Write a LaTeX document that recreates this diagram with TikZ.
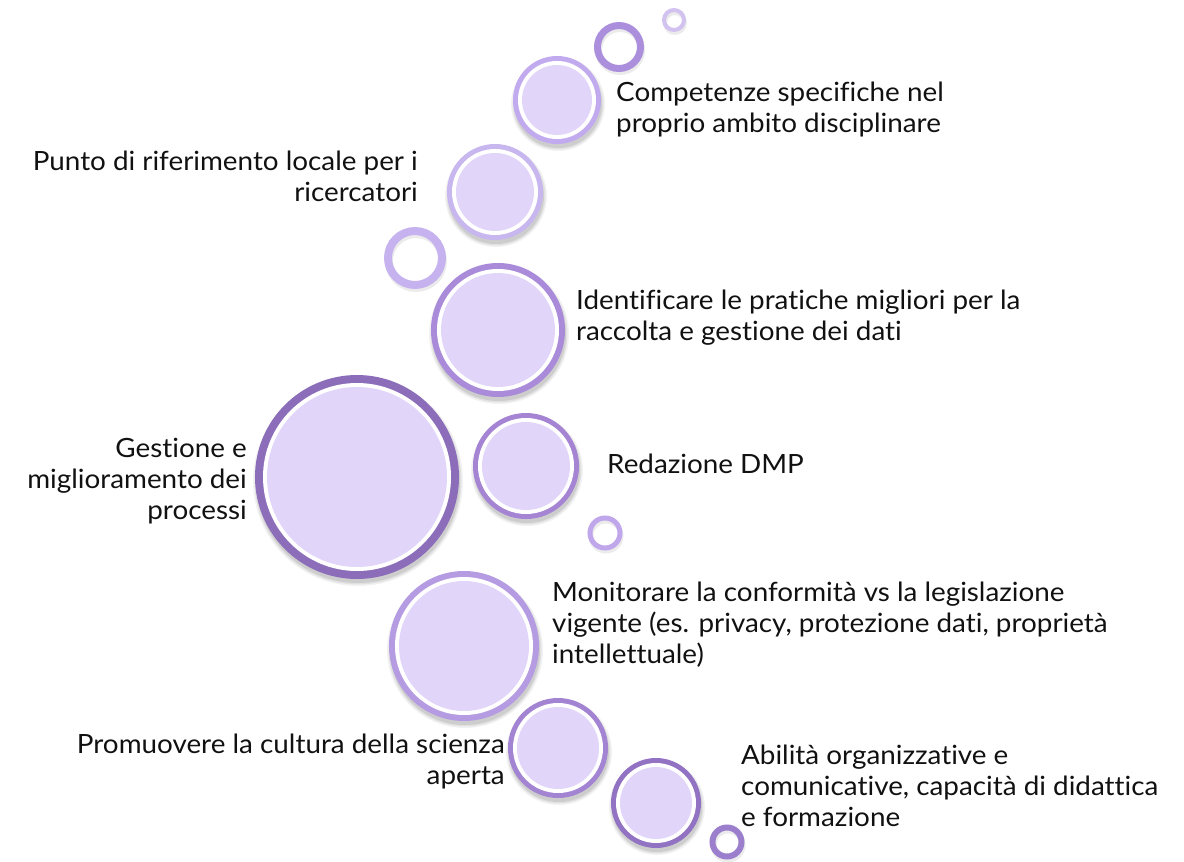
\documentclass[tikz,border=0pt]{standalone}
\usepackage{fontspec}
\setmainfont{Lato}[Ligatures={NoCommon},FakeStretch=1.05]
\definecolor{bubblefill}{HTML}{E1D5FA}
\definecolor{textc}{HTML}{111111}
\definecolor{bA}{HTML}{C2AAEE}
\definecolor{bB}{HTML}{C8B6EE}
\definecolor{bC}{HTML}{A98BD9}
\definecolor{bD}{HTML}{8C6DB9}
\definecolor{bE}{HTML}{A484D3}
\definecolor{bF}{HTML}{B59BE2}
\definecolor{bG}{HTML}{A384D2}
\definecolor{bH}{HTML}{9272C2}
\definecolor{rA}{HTML}{D2C2F0}
\definecolor{rB}{HTML}{AB8FDC}
\definecolor{rC}{HTML}{C6B2EE}
\definecolor{rD}{HTML}{C0A6EA}
\definecolor{rE}{HTML}{9C7FCC}
\newcommand\mybubble[6]{%
  \foreach \s/\o in {3/0.05,1.5/0.07,0/0.09}{\fill[black,opacity=\o] (#2+1,#3+4) circle ({(#4+\s)*1pt});}
  \fill[#5] (#2,#3) circle ({#4*1pt});
  \fill[white] (#2,#3) circle ({(#4-#6)*1pt});
  \fill[bubblefill] (#2,#3) circle ({(#4-#6-4)*1pt});
  \node[circle,inner sep=0pt,minimum size={2*#4*1pt}] (#1) at (#2,#3) {};
}
\newcommand\myring[6]{%
  \draw[black,opacity=0.08,line width={#6*1pt}] (#2+1,#3+3) circle ({(#4-#6/2)*1pt});
  \draw[#5,line width={#6*1pt}] (#2,#3) circle ({(#4-#6/2)*1pt});
  \node[circle,inner sep=0pt,minimum size={2*#4*1pt}] (#1) at (#2,#3) {};
}
\tikzset{lbl/.style={inner sep=0pt,text=textc,font=\fontsize{26.5}{31}\selectfont}}
\begin{document}
\begin{tikzpicture}[x=1pt,y=-1pt]
\useasboundingbox (0,0) rectangle (1184,862);
% rings
\myring{r1}{674}{20}{12}{rA}{4}
\myring{r2}{619}{47}{25}{rB}{7}
\myring{r3}{415}{258}{31}{rC}{8}
\myring{r4}{605}{533}{17.5}{rD}{5}
\myring{r5}{727}{842}{17.5}{rE}{6}
% bubbles
\mybubble{b1}{557}{100}{44}{bA}{5}
\mybubble{b2}{495}{192}{48}{bB}{5}
\mybubble{b3}{498}{330}{67}{bC}{6}
\mybubble{b4}{357}{477}{102}{bD}{8}
\mybubble{b5}{526}{466}{53}{bE}{5}
\mybubble{b6}{464}{646}{75}{bF}{6}
\mybubble{b7}{558}{748}{50}{bG}{5}
\mybubble{b8}{656}{803}{45}{bH}{5}
% labels
\node[lbl,anchor=north west,align=left] (t1) at (616,82) {Competenze specifiche nel\\proprio ambito disciplinare};
\node[lbl,anchor=north east,align=right] (t2) at (418,151) {Punto di riferimento locale per i\\ricercatori};
\node[lbl,anchor=north west,align=left] (t3) at (576,290) {Identificare le pratiche migliori per la\\raccolta e gestione dei dati};
\node[lbl,anchor=north east,align=right] (t4) at (247,438) {Gestione e\\miglioramento dei\\processi};
\node[lbl,anchor=north west,align=left] (t5) at (607,454) {Redazione DMP};
\node[lbl,anchor=north west,align=left] (t6) at (552,582) {Monitorare la conformità vs la legislazione\\vigente (es. privacy, protezione dati, proprietà\\intellettuale)};
\node[lbl,anchor=north east,align=right] (t7) at (505,734) {Promuovere la cultura della scienza\\aperta};
\node[lbl,anchor=north west,align=left] (t8) at (741,745) {Abilità organizzative e\\comunicative, capacità di didattica\\e formazione};
\end{tikzpicture}
\end{document}
